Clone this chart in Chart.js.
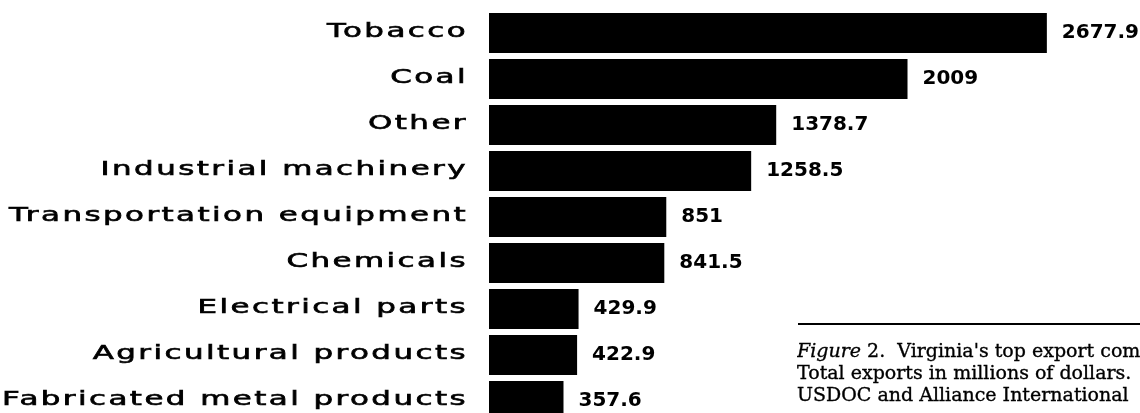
<!DOCTYPE html>
<html><head><meta charset="utf-8">
<script src="https://cdn.jsdelivr.net/npm/chart.js@4/dist/chart.umd.min.js"></script>
<style>
html,body{margin:0;padding:0;background:#fff;width:1140px;height:413px;overflow:hidden;position:relative}
#c{position:absolute;left:0;top:0}
#rule{position:absolute;left:798px;top:323px;width:342px;height:0;border-top:2px solid #000}
#cap{position:absolute;left:797px;top:339px;width:343px;overflow:hidden;white-space:nowrap;font:19px/22px "DejaVu Serif",serif;color:#000;-webkit-text-stroke:0.35px #000}
</style></head><body>
<canvas id="c" width="1140" height="424"></canvas>
<div id="rule"></div>
<div id="cap"><i>Figure</i> 2.&nbsp; Virginia's top export commodities<br>Total exports in millions of dollars.<br>USDOC and Alliance International</div>
<script>
const categories = ["Tobacco","Coal","Other","Industrial machinery","Transportation equipment","Chemicals","Electrical parts","Agricultural products","Fabricated metal products"];
const values = [2677.9, 2009, 1378.7, 1258.5, 851, 841.5, 429.9, 422.9, 357.6];

const labelPlugin = {
  id: 'labels',
  afterDatasetsDraw(chart) {
    const ctx = chart.ctx;
    const meta = chart.getDatasetMeta(0);
    const yScale = chart.scales.y;
    // category labels
    ctx.save();
    ctx.fillStyle = '#000';
    ctx.strokeStyle = '#000';
    ctx.lineWidth = 0.6;
    ctx.font = '19px "DejaVu Sans"';
    ctx.letterSpacing = '1.5px';
    ctx.textBaseline = 'middle';
    ctx.textAlign = 'left';
    let maxW = 0;
    categories.forEach(c => { maxW = Math.max(maxW, ctx.measureText(c).width); });
    const sx = 466 / maxW;
    categories.forEach((c, i) => {
      const y = yScale.getPixelForValue(i) - 1;
      const w = ctx.measureText(c).width;
      ctx.save();
      ctx.translate(468 - w * sx, y);
      ctx.scale(sx, 1);
      ctx.fillText(c, 0, 0);
      ctx.strokeText(c, 0, 0);
      ctx.restore();
    });
    ctx.restore();
    // value labels
    ctx.save();
    ctx.fillStyle = '#000';
    ctx.font = 'bold 20px "DejaVu Sans"';
    ctx.textBaseline = 'middle';
    ctx.textAlign = 'left';
    meta.data.forEach((bar, i) => {
      ctx.fillText(String(values[i]), bar.x + 15, bar.y);
    });
    ctx.restore();
  }
};

new Chart(document.getElementById('c'), {
  type: 'bar',
  data: {
    labels: categories,
    datasets: [{
      data: values,
      backgroundColor: '#000',
      borderWidth: 0,
      barPercentage: 0.87,
      categoryPercentage: 1
    }]
  },
  options: {
    indexAxis: 'y',
    responsive: false,
    animation: false,
    layout: { padding: { left: 489, top: 10, right: 0, bottom: 0 } },
    plugins: { legend: { display: false }, tooltip: { enabled: false } },
    scales: {
      x: { display: false, min: 0, max: 3125 },
      y: { display: false }
    }
  },
  plugins: [labelPlugin]
});
</script>
</body></html>
